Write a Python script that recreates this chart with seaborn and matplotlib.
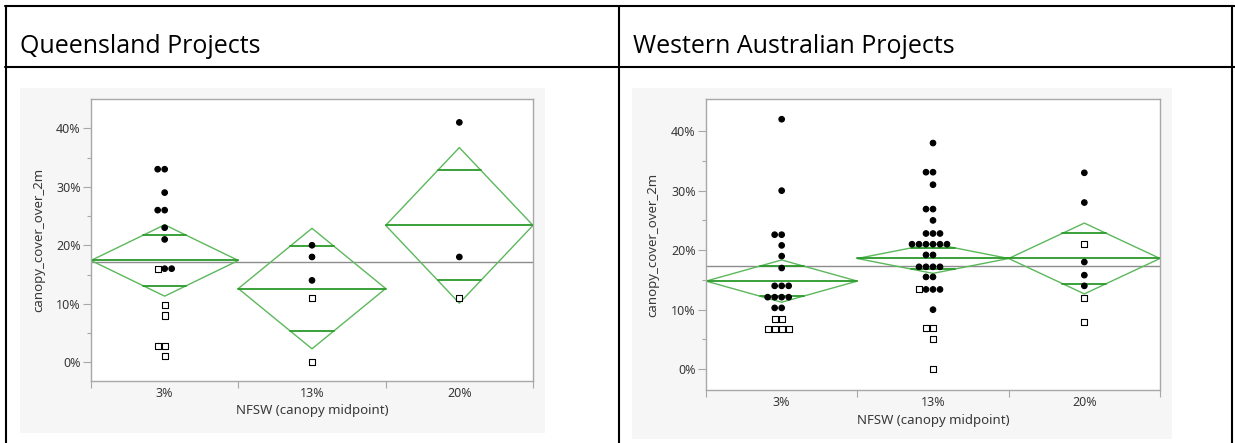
import numpy as np
import pandas as pd
import matplotlib
matplotlib.use("Agg")
import matplotlib.pyplot as plt
from matplotlib.lines import Line2D
from matplotlib.patches import Rectangle
from matplotlib.markers import MarkerStyle
from matplotlib.transforms import Affine2D
from matplotlib.ticker import FuncFormatter
import seaborn as sns

W, H = 1235, 443

categories = ["3%", "13%", "20%"]

# Queensland: canopy cover values per NFSW class (filled circles / open squares)
qld_circles = {"3%": [33, 33, 29, 26, 26, 23, 21, 16, 16],
               "13%": [20, 18, 14],
               "20%": [41, 18]}
qld_squares = {"3%": [16, 9.8, 8, 2.8, 2.8, 1],
               "13%": [11, 0],
               "20%": [11]}
qld_means = [17.4, 12.6, 23.4]
qld_ci = [6.1, 10.3, 13.3]
qld_grand = 17.2

# Western Australia
wa_circles = {"3%": [42, 30, 22.6, 22.6, 20.8, 19, 17, 14, 14, 14,
                     12.1, 12.1, 12.1, 12.1, 10.3, 10.3],
              "13%": [38, 33.1, 33.1, 31, 26.9, 26.9, 25, 22.8, 22.8, 22.8,
                      21, 21, 21, 21, 21, 21, 19.2, 19.2, 17.2, 17.2, 17.2, 17.2,
                      15.5, 15.5, 13.4, 13.4, 13.4, 10],
              "20%": [33, 28, 18, 15.8, 14]}
wa_squares = {"3%": [8.5, 8.5, 6.7, 6.7, 6.7, 6.7],
              "13%": [13.4, 6.9, 6.9, 5, 0],
              "20%": [21, 11.9, 8]}
wa_means = [14.8, 18.6, 18.6]
wa_ci = [3.55, 2.5, 5.95]
wa_grand = 17.3

sns.set_style("ticks")
plt.rcParams["font.family"] = ["Noto Sans", "DejaVu Sans"]

txt = "#383838"
frame = "#a8a8a8"
diamond_green = "#5cb85c"
line_green = "#2a9a2a"

fig = plt.figure(figsize=(W / 100, H / 100), dpi=100)


def fx(px):
    return px / W


def fy(py):
    return 1 - py / H


def line(x0, y0, x1, y1):
    fig.add_artist(Line2D([fx(x0), fx(x1)], [fy(y0), fy(y1)], color="black",
                          lw=1.5, transform=fig.transFigure, zorder=5))


def panel_bg(x0, y0, x1, y1):
    fig.add_artist(Rectangle((fx(x0), fy(y1)), fx(x1) - fx(x0), fy(y0) - fy(y1),
                             transform=fig.transFigure, facecolor="#f6f6f6",
                             edgecolor="none", zorder=-1))


# table grid
line(5, 6, 1235, 6)
line(5, 67, 1235, 67)
line(6, 6, 6, 443)
line(619, 6, 619, 443)
line(1232, 6, 1232, 443)

fig.text(fx(20), fy(53), "Queensland Projects", fontsize=18, family="Open Sans",
         va="baseline", color="black")
fig.text(fx(633), fy(53), "Western Australian Projects", fontsize=18, family="Open Sans",
         va="baseline", color="black")

panel_bg(20, 88, 545, 433)
panel_bg(632, 88, 1172, 439)

mk = MarkerStyle("o")
circle_path = mk.get_path().transformed(mk.get_transform()).transformed(Affine2D().scale(1.0))
mk = MarkerStyle("s")
square_path = mk.get_path().transformed(mk.get_transform()).transformed(Affine2D().scale(1.1))


def panel(rect, circles, squares, means, cis, grand, ylim):
    left, top, right, bottom = rect
    ax = fig.add_axes([fx(left), fy(bottom), fx(right) - fx(left), fy(top) - fy(bottom)])
    ax.set_facecolor("white")

    rows = []
    for cat in categories:
        for v in circles[cat]:
            rows.append((cat, v, "circle"))
        for v in squares[cat]:
            rows.append((cat, v, "square"))
    df = pd.DataFrame(rows, columns=["nfsw", "cover", "shape"])

    ax.axhline(grand, color="#8c8c8c", lw=1, zorder=1)
    w = 0.5 * (1 - 1 / np.sqrt(2))
    for i, (m, h) in enumerate(zip(means, cis)):
        ax.plot([i - .5, i, i + .5, i, i - .5], [m, m + h, m, m - h, m],
                color=diamond_green, lw=1, zorder=2)
        ax.plot([i - .5, i + .5], [m, m], color=line_green, lw=1.3, zorder=2)
        d = h / np.sqrt(2)
        for s in (1, -1):
            ax.plot([i - w, i + w], [m + s * d] * 2, color=line_green, lw=1.3, zorder=2)

    n0 = len(ax.collections)
    sns.swarmplot(data=df, x="nfsw", y="cover", hue="shape", order=categories,
                  palette={"circle": "black", "square": "white"}, size=4,
                  linewidth=0.8, legend=False, ax=ax, zorder=3)
    for cat, coll in zip(categories, ax.collections[n0:]):
        shapes = df.loc[df.nfsw == cat, "shape"].tolist()
        coll.set_paths([square_path if s == "square" else circle_path for s in shapes])
        coll.set_edgecolor("black")
        coll.set_linewidth(0.8)

    ax.set_xlim(-0.5, 2.5)
    ax.set_ylim(*ylim)
    ax.set_xticks([-0.5, 0.5, 1.5, 2.5])
    ax.set_xticklabels([])
    ax.set_xticks([0, 1, 2], minor=True)
    ax.set_xticklabels(categories, minor=True)
    ax.tick_params(axis="x", which="major", length=4.8, width=0.8, color=frame,
                   direction="out", bottom=True)
    ax.tick_params(axis="x", which="minor", length=0, pad=4.5, labelsize=9,
                   labelcolor=txt, bottom=True)
    ax.set_yticks([0, 10, 20, 30, 40])
    ax.set_yticks([5, 15, 25, 35], minor=True)
    ax.yaxis.set_major_formatter(FuncFormatter(lambda v, p: f"{v:.0f}%"))
    ax.tick_params(axis="y", which="major", length=5.8, width=0.8, color=frame,
                   pad=1.5, labelsize=9, labelcolor=txt, left=True)
    ax.tick_params(axis="y", which="minor", length=2.9, width=0.8, color=frame, left=True)
    for sp in ax.spines.values():
        sp.set_visible(True)
        sp.set_color(frame)
        sp.set_linewidth(1)

    ax.set_ylabel("canopy_cover_over_2m", fontsize=9.5, color=txt)
    ax.yaxis.set_label_coords(-0.104, 0.5)
    ax.set_xlabel("NFSW (canopy midpoint)", fontsize=9.5, color=txt)
    ax.xaxis.set_label_coords(0.5, -0.082)
    return ax


panel((91, 99, 533, 381), qld_circles, qld_squares, qld_means, qld_ci, qld_grand, (-3.2, 45))
panel((706, 99, 1160, 390), wa_circles, wa_squares, wa_means, wa_ci, wa_grand, (-3.5, 45.4))

fig.savefig("out.png", dpi=100)
